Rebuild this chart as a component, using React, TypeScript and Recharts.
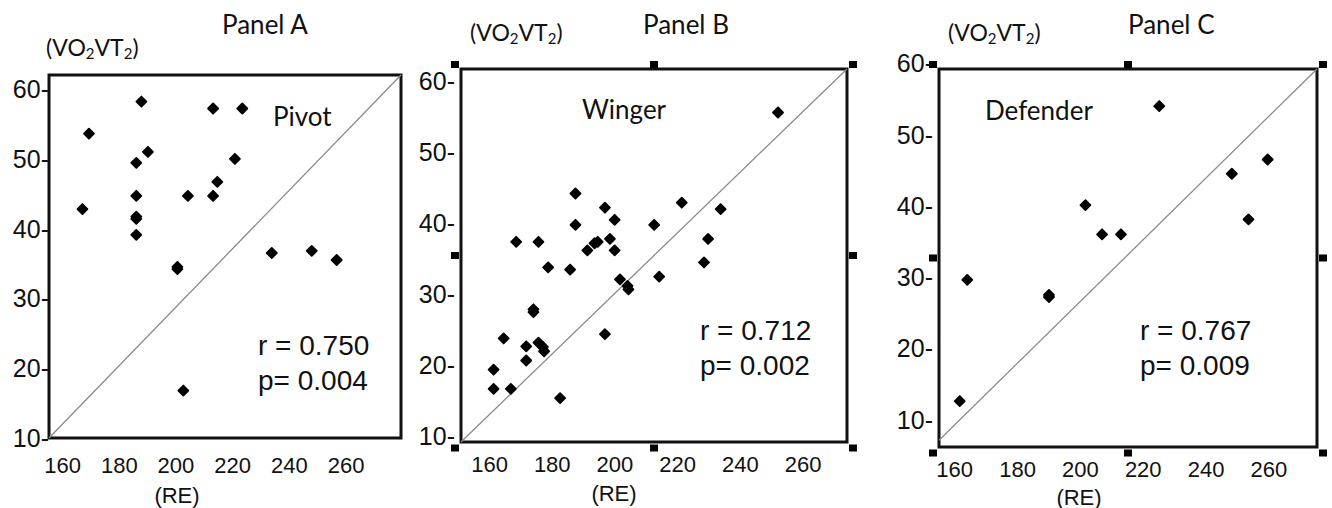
import React from 'react';
import {
  ScatterChart,
  Scatter,
  XAxis,
  YAxis,
  ReferenceLine,
  ReferenceArea,
  ReferenceDot,
} from 'recharts';

// ---------- data ----------
const xTicks = [160, 180, 200, 220, 240, 260];
const yTicks = [10, 20, 30, 40, 50, 60];

const pivotRE = [167.0, 169.3, 187.8, 190.1, 186.0, 186.0, 186.0, 186.0, 186.0, 204.2, 213.1, 214.6, 213.1, 223.4, 220.8, 200.5, 200.5, 233.8, 247.9, 256.7, 202.6];
const pivotVO2 = [42.8, 53.6, 58.2, 51.0, 49.4, 44.7, 41.7, 41.4, 39.1, 44.7, 44.7, 46.7, 57.2, 57.2, 50.0, 34.5, 34.2, 36.5, 36.8, 35.5, 16.8];

const wingerRE = [187.4, 196.8, 199.9, 187.4, 168.5, 175.6, 194.5, 193.5, 198.4, 191.2, 199.9, 178.7, 185.7, 212.5, 221.3, 233.7, 229.7, 228.4, 214.1, 201.6, 204.0, 204.3, 252.0, 174.0, 174.0, 164.5, 171.7, 175.6, 177.0, 177.4, 171.7, 161.3, 161.3, 166.8, 182.5, 196.8];
const wingerVO2 = [44.1, 42.1, 40.4, 39.7, 37.3, 37.3, 37.3, 37.1, 37.7, 36.1, 36.1, 33.7, 33.4, 39.7, 42.8, 41.9, 37.7, 34.4, 32.4, 32.0, 31.1, 30.6, 55.5, 27.4, 27.8, 23.7, 22.6, 23.1, 22.5, 21.9, 20.6, 19.3, 16.6, 16.6, 15.3, 24.3];

const defenderRE = [225.1, 259.6, 248.2, 253.5, 201.6, 206.9, 212.9, 164.0, 190.0, 190.0, 161.6];
const defenderVO2 = [54.0, 46.5, 44.5, 38.1, 40.1, 36.0, 36.0, 29.6, 27.5, 27.2, 12.6];

const panelTitles = ['Panel A', 'Panel B', 'Panel C'];
const groupNames = ['Pivot', 'Winger', 'Defender'];
const rValues = ['0.750', '0.712', '0.767'];
const pValues = ['0.004', '0.002', '0.009'];

const toPoints = (xs: number[], ys: number[]) => xs.map((x, i) => ({ x, y: ys[i] }));

// ---------- layout ----------
type Panel = {
  left: number;
  width: number;
  yAxisWidth: number;
  margin: { top: number; right: number; bottom: number; left: number };
  xDomain: [number, number];
  yDomain: [number, number];
  diagStartY: number;
  tickGap: number;
  xTickOffset: number;
  handles: boolean;
  data: { x: number; y: number }[];
};

const panels: Panel[] = [
  {
    left: 0, width: 440, yAxisWidth: 49,
    margin: { top: 75, right: 39, bottom: 30, left: 0 },
    xDomain: [155.2, 279.4], yDomain: [10, 62], diagStartY: 10,
    tickGap: 0, xTickOffset: 27, handles: false,
    data: toPoints(pivotRE, pivotVO2),
  },
  {
    left: 400, width: 470, yAxisWidth: 61,
    margin: { top: 69, right: 23, bottom: 26, left: 0 },
    xDomain: [150.9, 274], yDomain: [9.13, 61.62], diagStartY: 9.13,
    tickGap: 6, xTickOffset: 22, handles: true,
    data: toPoints(wingerRE, wingerVO2),
  },
  {
    left: 870, width: 462, yAxisWidth: 69,
    margin: { top: 69, right: 15, bottom: 21, left: 0 },
    xDomain: [155, 275.3], yDomain: [6.15, 59.2], diagStartY: 7.1,
    tickGap: 6, xTickOffset: 22, handles: true,
    data: toPoints(defenderRE, defenderVO2),
  },
];

const NUM_FONT = '"Liberation Sans", Arial, sans-serif';
const LABEL_FONT = 'Lato, "Open Sans", sans-serif';

const Diamond = (props: any) => {
  const { cx, cy } = props;
  if (cx == null || cy == null) return null;
  const r = 5;
  return (
    <path
      d={`M${cx},${cy - r}L${cx + r},${cy}L${cx},${cy + r}L${cx - r},${cy}Z`}
      fill="#000"
      stroke="#000"
      strokeWidth={1.8}
      strokeLinejoin="round"
    />
  );
};

const makeHandle = (dx: number, dy: number) => (props: any) => {
  const { cx, cy } = props;
  if (cx == null || cy == null) return null;
  return <rect x={cx + dx - 4} y={cy + dy - 3.5} width={8} height={7} fill="#000" />;
};

const PanelChart = ({ p }: { p: Panel }) => {
  const [x0, x1] = p.xDomain;
  const [y0, y1] = p.yDomain;
  const xm = (x0 + x1) / 2;
  const ym = (y0 + y1) / 2;
  const handleSpots: { x: number; y: number; dx: number; dy: number }[] = [];
  if (p.handles) {
    const xs = [
      { v: x0, d: -6 },
      { v: xm, d: 0 },
      { v: x1, d: 6 },
    ];
    const ys = [
      { v: y1, d: -4.5 },
      { v: ym, d: 0 },
      { v: y0, d: 6 },
    ];
    xs.forEach((xx, i) =>
      ys.forEach((yy, j) => {
        if (i === 1 && j === 1) return;
        handleSpots.push({ x: xx.v, y: yy.v, dx: xx.d, dy: yy.d });
      })
    );
  }
  const YTick = (t: any) => (
    <text
      x={t.x - p.tickGap}
      y={t.y}
      textAnchor="end"
      dominantBaseline="central"
      fontFamily={NUM_FONT}
      fontSize={25}
      fill="#111"
    >
      {`${t.payload.value}-`}
    </text>
  );
  const XTick = (t: any) => (
    <text
      x={t.x}
      y={t.y + p.xTickOffset}
      textAnchor="middle"
      dominantBaseline="central"
      fontFamily={NUM_FONT}
      fontSize={22}
      fill="#111"
    >
      {t.payload.value}
    </text>
  );
  return (
    <div style={{ position: 'absolute', left: p.left, top: 0 }}>
      <ScatterChart width={p.width} height={508} margin={p.margin}>
        <XAxis
          type="number"
          dataKey="x"
          domain={p.xDomain}
          allowDataOverflow
          ticks={xTicks}
          interval={0}
          height={40}
          axisLine={false}
          tickLine={false}
          tickSize={0}
          tickMargin={0}
          tick={XTick}
        />
        <YAxis
          type="number"
          dataKey="y"
          domain={p.yDomain}
          allowDataOverflow
          ticks={yTicks}
          interval={0}
          width={p.yAxisWidth}
          axisLine={false}
          tickLine={false}
          tickSize={0}
          tickMargin={0}
          tick={YTick}
        />
        <ReferenceLine
          segment={[
            { x: x0, y: p.diagStartY },
            { x: x1, y: y1 },
          ]}
          stroke="#8a8a8a"
          strokeWidth={1.3}
          ifOverflow="visible"
        />
        <ReferenceArea
          x1={x0}
          x2={x1}
          y1={y0}
          y2={y1}
          fill="none"
          fillOpacity={0}
          stroke="#111"
          strokeWidth={3}
          ifOverflow="visible"
        />
        <Scatter data={p.data} shape={Diamond} isAnimationActive={false} />
        {handleSpots.map((h, i) => (
          <ReferenceDot
            key={i}
            x={h.x}
            y={h.y}
            r={4}
            ifOverflow="visible"
            shape={makeHandle(h.dx, h.dy)}
          />
        ))}
      </ScatterChart>
    </div>
  );
};

const VOLabel = ({ x, y }: { x: number; y: number }) => (
  <text x={x} y={y} dominantBaseline="central" fontFamily={LABEL_FONT} fontSize={23} fill="#111">
    (VO
    <tspan fontSize={15} dy={6}>2</tspan>
    <tspan dy={-6}>VT</tspan>
    <tspan fontSize={15} dy={6}>2</tspan>
    <tspan dy={-6}>)</tspan>
  </text>
);

const textSpots = [
  { vo: [46, 47], title: [222, 34], group: [273, 116], rp: [258, 345], re: [177, 495] },
  { vo: [470, 32], title: [643, 34], group: [582, 109], rp: [700, 330], re: [614, 493] },
  { vo: [948, 32], title: [1128, 34], group: [985, 110], rp: [1140, 330], re: [1079, 497] },
];

export default function App() {
  return (
    <div style={{ position: 'absolute', left: 0, top: 0, width: 1332, height: 508, background: '#fff', overflow: 'hidden' }}>
      {panels.map((p, i) => (
        <PanelChart key={i} p={p} />
      ))}
      <svg width={1332} height={508} style={{ position: 'absolute', left: 0, top: 0, pointerEvents: 'none' }}>
        {textSpots.map((s, i) => (
          <g key={i}>
            <VOLabel x={s.vo[0]} y={s.vo[1]} />
            <text x={s.title[0]} y={s.title[1]} fontFamily={LABEL_FONT} fontSize={26} fill="#111">
              {panelTitles[i]}
            </text>
            <text x={s.group[0]} y={s.group[1]} dominantBaseline="central" fontFamily={LABEL_FONT} fontSize={26} fill="#111">
              {groupNames[i]}
            </text>
            <text x={s.rp[0]} y={s.rp[1]} dominantBaseline="central" fontFamily={NUM_FONT} fontSize={28} fill="#111">
              {`r = ${rValues[i]}`}
            </text>
            <text x={s.rp[0]} y={s.rp[1] + 35} dominantBaseline="central" fontFamily={NUM_FONT} fontSize={28} fill="#111">
              {`p= ${pValues[i]}`}
            </text>
            <text x={s.re[0]} y={s.re[1]} textAnchor="middle" dominantBaseline="central" fontFamily={NUM_FONT} fontSize={22} fill="#111">
              (RE)
            </text>
          </g>
        ))}
      </svg>
    </div>
  );
}
